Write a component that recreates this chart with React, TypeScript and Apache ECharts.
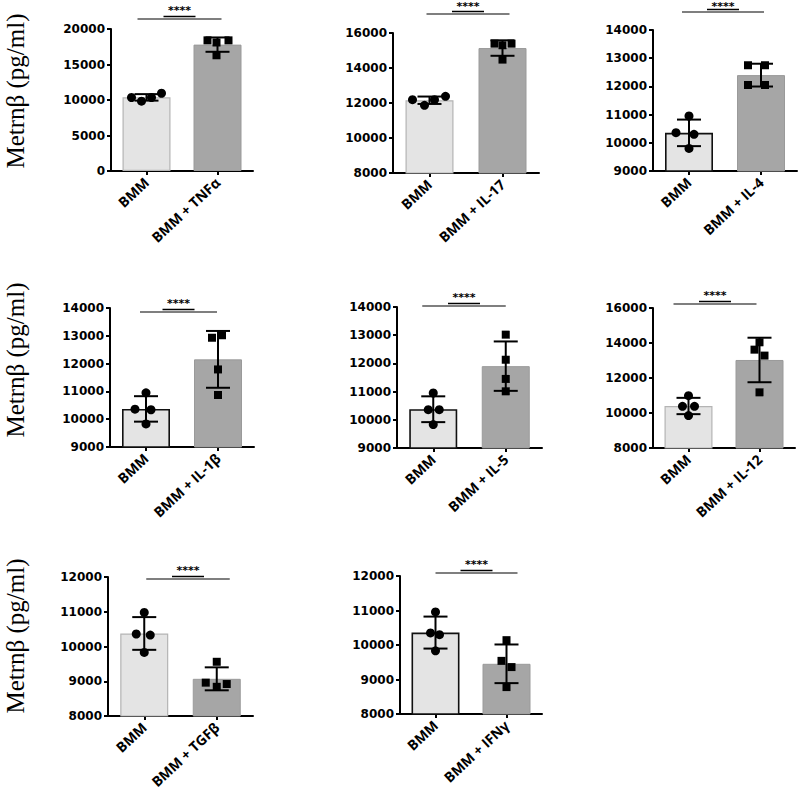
import React, { useEffect, useRef } from "react";
import * as echarts from "echarts";

// ---------- data ----------
const treatments = ["TNFα", "IL-17", "IL-4", "IL-1β", "IL-5", "IL-12", "TGFβ", "IFNγ"];
const controlLabel = "BMM";
const yAxisTitle = "Metrnβ (pg/ml)";
const significance = ["****", "****", "****", "****", "****", "****", "****", "****"];

const yMin = [0, 8000, 9000, 9000, 9000, 8000, 8000, 8000];
const yMax = [20000, 16000, 14000, 14000, 14000, 16000, 12000, 12000];
const yStep = [5000, 2000, 1000, 1000, 1000, 2000, 1000, 1000];

const controlPoints = [
  [10350, 9830, 10350, 10950],
  [12190, 11870, 12190, 12380],
  [10950, 10360, 10300, 9800],
  [10950, 10360, 10340, 9830],
  [10950, 10360, 10360, 9830],
  [10990, 10380, 10380, 9850],
  [10980, 10360, 10330, 9830],
  [10960, 10350, 10300, 9830],
];
const treatedPoints = [
  [18400, 18100, 18400, 16300],
  [15390, 15300, 15390, 14480],
  [12750, 12750, 12050, 12050],
  [12930, 13020, 11790, 10870],
  [13020, 12130, 11450, 11010],
  [14040, 13620, 13280, 11180],
  [9560, 8960, 8840, 8920],
  [10140, 9540, 9360, 8780],
];

// ---------- layout (pixels) ----------
const grids = [
  { left: 111, top: 29, width: 142, height: 142 },
  { left: 393, top: 33, width: 146, height: 140 },
  { left: 653, top: 30, width: 144, height: 141 },
  { left: 110, top: 308, width: 144, height: 139 },
  { left: 397, top: 307, width: 145, height: 141 },
  { left: 653, top: 308, width: 142, height: 140 },
  { left: 108, top: 577, width: 145, height: 139 },
  { left: 400, top: 576, width: 142, height: 138 },
];
const controlJitter = [
  [-15, -5, 5, 15],
  [-17, -5, 5, 16],
  [0, -13, 5, 0],
  [0, -11, 5, 0],
  [0, -5, 6, 0],
  [0, -6, 6, 0],
  [0, -8, 6, 0],
  [0, -5, 4, 0],
];
const treatedJitter = [
  [-10, -1, 11, -1],
  [-8, 0, 9, 0],
  [-13, 4, -13, 4],
  [-6, 4, 0, 0],
  [0, 0, 0, 0],
  [0, -5, 5, 0],
  [0, -11, 0, 10],
  [0, -5, 5, 0],
];
const sigOffsetY = [-10, -19, -18, 4, -1, -4, 2, -3];
const sigOffsetX = [
  [-9, 4], [-3, 7], [-7, 3], [-6, -1], [-11, 0], [-15, -3], [2, 13], [0, 11],
];
const darkOutline = [false, false, true, true, true, false, false, true];
const rowLabelCenters = [91, 360, 636];

const mean = (a: number[]) => a.reduce((s, v) => s + v, 0) / a.length;
const sd = (a: number[]) => {
  const m = mean(a);
  return Math.sqrt(a.reduce((s, v) => s + (v - m) * (v - m), 0) / (a.length - 1));
};

const TICK_FONT = "DejaVu Sans";
const CAT_FONT = "Open Sans";

function buildOption() {
  const grid: any[] = [];
  const xAxis: any[] = [];
  const yAxis: any[] = [];
  const series: any[] = [];

  treatments.forEach((t, i) => {
    const g = grids[i];
    grid.push({
      left: g.left,
      top: g.top,
      width: g.width,
      height: g.height,
      containLabel: false,
      outerBoundsMode: "none",
    });
    xAxis.push({
      type: "category",
      gridIndex: i,
      data: [controlLabel, `${controlLabel} + ${t}`],
      axisLine: { show: true, onZero: false, lineStyle: { color: "#000", width: 2 } },
      axisTick: { show: true, alignWithLabel: true, length: 4, lineStyle: { color: "#000", width: 2 } },
      axisLabel: {
        rotate: 43,
        margin: 9,
        color: "#000",
        fontWeight: "bold",
        fontSize: 14,
        fontFamily: CAT_FONT,
        interval: 0,
      },
      splitLine: { show: false },
    });
    yAxis.push({
      type: "value",
      gridIndex: i,
      min: yMin[i],
      max: yMax[i],
      interval: yStep[i],
      axisLine: { show: true, lineStyle: { color: "#000", width: 2 } },
      axisTick: { show: true, length: 4, lineStyle: { color: "#000", width: 2 } },
      axisLabel: {
        margin: 6,
        color: "#000",
        fontWeight: "bold",
        fontSize: 12,
        fontFamily: TICK_FONT,
        formatter: (v: number) => String(v),
      },
      splitLine: { show: false },
    });

    const c = controlPoints[i];
    const tr = treatedPoints[i];
    const mc = mean(c);
    const mt = mean(tr);

    series.push({
      type: "bar",
      xAxisIndex: i,
      yAxisIndex: i,
      barWidth: 48,
      clip: true,
      z: 2,
      data: [
        {
          value: mc,
          itemStyle: {
            color: "#e4e4e4",
            borderColor: darkOutline[i] ? "#111" : "#b4b4b4",
            borderWidth: darkOutline[i] ? 1.6 : 1.2,
          },
        },
        { value: mt, itemStyle: { color: "#a6a6a6", borderColor: "#9a9a9a", borderWidth: 1 } },
      ],
    });

    series.push({
      type: "custom",
      xAxisIndex: i,
      yAxisIndex: i,
      z: 4,
      encode: { x: 0, y: 1 },
      data: [
        [0, mc, sd(c)],
        [1, mt, sd(tr)],
      ],
      renderItem: (params: any, api: any) => {
        const x = api.value(0);
        const m = api.value(1);
        const s = api.value(2);
        const p1 = api.coord([x, m + s]);
        const p2 = api.coord([x, m - s]);
        const hw = 12;
        const st = { stroke: "#000", lineWidth: 2 };
        return {
          type: "group",
          children: [
            { type: "line", shape: { x1: p1[0], y1: p1[1], x2: p2[0], y2: p2[1] }, style: st },
            { type: "line", shape: { x1: p1[0] - hw, y1: p1[1], x2: p1[0] + hw, y2: p1[1] }, style: st },
            { type: "line", shape: { x1: p2[0] - hw, y1: p2[1], x2: p2[0] + hw, y2: p2[1] }, style: st },
          ],
        };
      },
    });

    series.push({
      type: "scatter",
      xAxisIndex: i,
      yAxisIndex: i,
      symbol: "circle",
      symbolSize: 9,
      z: 5,
      itemStyle: { color: "#000", opacity: 1 },
      data: c.map((v, k) => ({ value: [0, v], symbolOffset: [controlJitter[i][k], 0] })),
    });
    series.push({
      type: "scatter",
      xAxisIndex: i,
      yAxisIndex: i,
      symbol: "rect",
      symbolSize: 8,
      z: 5,
      itemStyle: { color: "#000", opacity: 1 },
      data: tr.map((v, k) => ({ value: [1, v], symbolOffset: [treatedJitter[i][k], 0] })),
    });

    series.push({
      type: "custom",
      xAxisIndex: i,
      yAxisIndex: i,
      z: 6,
      clip: false,
      encode: { x: 0, y: 1 },
      data: [[0, yMax[i]]],
      renderItem: (params: any, api: any) => {
        const a = api.coord([0, yMax[i]]);
        const b = api.coord([1, yMax[i]]);
        const ly = a[1] + sigOffsetY[i];
        const x1 = a[0] + sigOffsetX[i][0];
        const x2 = b[0] + sigOffsetX[i][1];
        const mid = (x1 + x2) / 2;
        return {
          type: "group",
          children: [
            { type: "line", shape: { x1, y1: ly, x2, y2: ly }, style: { stroke: "#000", lineWidth: 1.2 } },
            {
              type: "line",
              shape: { x1: mid - 16, y1: ly - 2.5, x2: mid + 16, y2: ly - 2.5 },
              style: { stroke: "#000", lineWidth: 1.5 },
            },
            {
              type: "text",
              x: mid,
              y: Math.max(ly - 9, 6),
              style: {
                text: significance[i],
                fill: "#000",
                font: `bold 11px "${TICK_FONT}"`,
                align: "center",
                verticalAlign: "middle",
              },
            },
          ],
        };
      },
    });
  });

  const graphic = rowLabelCenters.map((cy) => ({
    type: "text",
    x: 15,
    y: cy,
    rotation: Math.PI / 2,
    style: {
      text: yAxisTitle,
      fill: "#000",
      font: '25px "Liberation Serif"',
      align: "center",
      verticalAlign: "middle",
    },
  }));

  return {
    animation: false,
    backgroundColor: "#fff",
    grid,
    xAxis,
    yAxis,
    series,
    graphic,
  };
}

export default function App() {
  const ref = useRef<HTMLDivElement>(null);
  useEffect(() => {
    if (!ref.current) return;
    const chart = echarts.init(ref.current, undefined, { renderer: "svg" });
    chart.setOption(buildOption() as any);
    return () => chart.dispose();
  }, []);
  return (
    <div
      ref={ref}
      style={{ position: "fixed", left: 0, top: 0, width: 800, height: 793, background: "#fff" }}
    />
  );
}
